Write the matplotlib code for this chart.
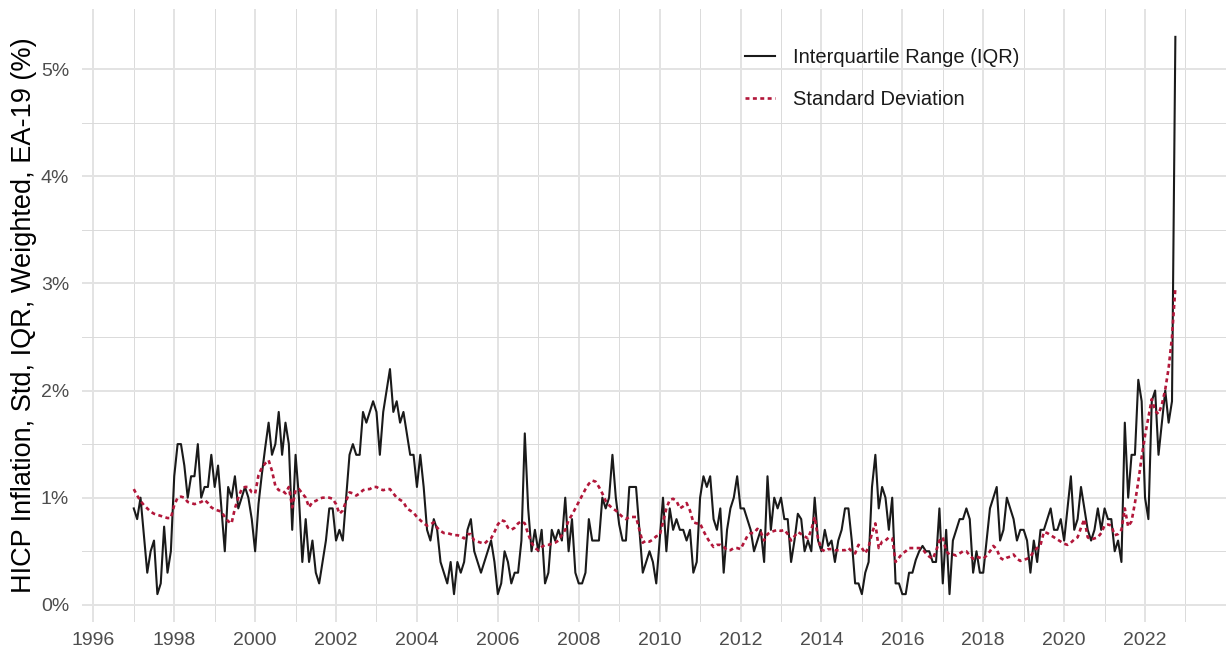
import matplotlib
matplotlib.use("Agg")
import matplotlib.pyplot as plt
import numpy as np
from matplotlib.lines import Line2D

plt.rcParams['font.family'] = ['Liberation Sans', 'DejaVu Sans']

# ---------------- data (monthly, starting Jan 1997) ----------------
start_year = 1997

iqr = [
    # 1997
    0.9, 0.8, 1.0, 0.65, 0.3, 0.5, 0.6, 0.1, 0.2, 0.73, 0.3, 0.5,
    # 1998
    1.2, 1.5, 1.5, 1.3, 1.0, 1.2, 1.2, 1.5, 1.0, 1.1, 1.1, 1.4,
    # 1999
    1.1, 1.3, 0.9, 0.5, 1.1, 1.0, 1.2, 0.9, 1.0, 1.1, 1.0, 0.8,
    # 2000
    0.5, 0.94, 1.22, 1.47, 1.7, 1.4, 1.5, 1.8, 1.4, 1.7, 1.5, 0.7,
    # 2001
    1.4, 1.0, 0.4, 0.8, 0.4, 0.6, 0.3, 0.2, 0.4, 0.6, 0.9, 0.9,
    # 2002
    0.6, 0.7, 0.6, 1.0, 1.4, 1.5, 1.4, 1.4, 1.8, 1.7, 1.8, 1.9,
    # 2003
    1.8, 1.4, 1.8, 2.0, 2.2, 1.8, 1.9, 1.7, 1.8, 1.6, 1.4, 1.4,
    # 2004
    1.1, 1.4, 1.1, 0.7, 0.6, 0.8, 0.7, 0.4, 0.3, 0.2, 0.4, 0.1,
    # 2005
    0.4, 0.3, 0.4, 0.7, 0.8, 0.5, 0.4, 0.3, 0.4, 0.5, 0.6, 0.4,
    # 2006
    0.1, 0.2, 0.5, 0.4, 0.2, 0.3, 0.3, 0.6, 1.6, 0.9, 0.5, 0.7,
    # 2007
    0.5, 0.7, 0.2, 0.3, 0.7, 0.6, 0.7, 0.6, 1.0, 0.5, 0.8, 0.3,
    # 2008
    0.2, 0.2, 0.3, 0.8, 0.6, 0.6, 0.6, 1.0, 0.9, 1.0, 1.4, 1.0,
    # 2009
    0.75, 0.6, 0.6, 1.1, 1.1, 1.1, 0.7, 0.3, 0.4, 0.5, 0.4, 0.2,
    # 2010
    0.6, 1.0, 0.5, 0.9, 0.7, 0.8, 0.7, 0.7, 0.6, 0.7, 0.3, 0.4,
    # 2011
    1.0, 1.2, 1.1, 1.2, 0.8, 0.7, 0.9, 0.3, 0.7, 0.9, 1.0, 1.2,
    # 2012
    0.9, 0.9, 0.8, 0.7, 0.5, 0.6, 0.7, 0.4, 1.2, 0.7, 1.0, 0.9,
    # 2013
    1.0, 0.8, 0.8, 0.4, 0.6, 0.85, 0.8, 0.5, 0.6, 0.5, 1.0, 0.6,
    # 2014
    0.5, 0.7, 0.55, 0.6, 0.4, 0.6, 0.7, 0.9, 0.9, 0.6, 0.2, 0.2,
    # 2015
    0.1, 0.3, 0.4, 1.1, 1.4, 0.9, 1.1, 1.0, 0.7, 1.0, 0.2, 0.2,
    # 2016
    0.1, 0.1, 0.3, 0.3, 0.42, 0.5, 0.55, 0.5, 0.5, 0.4, 0.4, 0.9,
    # 2017
    0.2, 0.7, 0.1, 0.6, 0.7, 0.8, 0.8, 0.9, 0.8, 0.3, 0.5, 0.3,
    # 2018
    0.3, 0.6, 0.9, 1.0, 1.1, 0.6, 0.7, 1.0, 0.9, 0.8, 0.6, 0.7,
    # 2019
    0.7, 0.6, 0.3, 0.6, 0.4, 0.7, 0.7, 0.8, 0.9, 0.7, 0.7, 0.8,
    # 2020
    0.6, 0.9, 1.2, 0.7, 0.8, 1.1, 0.9, 0.7, 0.6, 0.7, 0.9, 0.7,
    # 2021
    0.9, 0.8, 0.8, 0.5, 0.6, 0.4, 1.7, 1.0, 1.4, 1.4, 2.1, 1.9,
    # 2022
    1.0, 0.8, 1.9, 2.0, 1.4, 1.7, 2.0, 1.7, 1.9, 5.3,
]

sd = [
    # 1997
    1.08, 1.02, 0.97, 0.93, 0.90, 0.87, 0.85, 0.84, 0.83, 0.82, 0.81, 0.81,
    # 1998
    0.93, 1.0, 1.01, 1.0, 0.96, 0.95, 0.94, 0.95, 0.96, 0.98, 0.95, 0.91,
    # 1999
    0.89, 0.88, 0.87, 0.82, 0.78, 0.76, 0.9, 1.0, 1.08, 1.1, 1.1, 1.05,
    # 2000
    1.04, 1.21, 1.28, 1.32, 1.35, 1.25, 1.11, 1.07, 1.07, 1.04, 1.1, 0.91,
    # 2001
    1.07, 1.08, 1.04, 1.0, 0.91, 0.96, 0.97, 0.99, 1.0, 1.0, 1.0, 0.99,
    # 2002
    0.94, 0.85, 0.88, 0.97, 1.05, 1.04, 1.02, 1.04, 1.07, 1.08, 1.08, 1.1,
    # 2003
    1.1, 1.08, 1.07, 1.08, 1.08, 1.04, 1.0, 0.98, 0.96, 0.9, 0.88, 0.86,
    # 2004
    0.82, 0.79, 0.76, 0.74, 0.75, 0.77, 0.72, 0.69, 0.67, 0.67, 0.66, 0.65,
    # 2005
    0.65, 0.64, 0.62, 0.66, 0.66, 0.6, 0.59, 0.58, 0.57, 0.6, 0.62, 0.68,
    # 2006
    0.75, 0.79, 0.78, 0.72, 0.7, 0.72, 0.76, 0.78, 0.76, 0.66, 0.58, 0.53,
    # 2007
    0.51, 0.54, 0.56, 0.56, 0.57, 0.58, 0.6, 0.65, 0.7, 0.79, 0.84, 0.9,
    # 2008
    0.96, 1.02, 1.08, 1.13, 1.16, 1.15, 1.1, 1.04, 0.97, 0.93, 0.9, 0.88,
    # 2009
    0.85, 0.82, 0.8, 0.82, 0.82, 0.82, 0.7, 0.58, 0.6, 0.59, 0.61, 0.64,
    # 2010
    0.65, 0.77, 0.9, 0.98, 0.99, 0.97, 0.9, 0.92, 0.95, 0.88, 0.77, 0.76,
    # 2011
    0.76, 0.69, 0.63, 0.58, 0.54, 0.56, 0.56, 0.54, 0.51, 0.51, 0.53, 0.53,
    # 2012
    0.52, 0.58, 0.64, 0.67, 0.67, 0.71, 0.68, 0.6, 0.66, 0.68, 0.69, 0.7,
    # 2013
    0.69, 0.7, 0.66, 0.6, 0.64, 0.68, 0.66, 0.64, 0.62, 0.7, 0.82, 0.62,
    # 2014
    0.52, 0.5, 0.52, 0.52, 0.51, 0.51, 0.51, 0.51, 0.53, 0.5, 0.48, 0.56,
    # 2015
    0.53, 0.48, 0.54, 0.67, 0.76, 0.53, 0.59, 0.6, 0.63, 0.62, 0.4, 0.44,
    # 2016
    0.48, 0.5, 0.53, 0.53, 0.53, 0.53, 0.52, 0.48, 0.45, 0.43, 0.5, 0.6,
    # 2017
    0.63, 0.5, 0.47, 0.47, 0.46, 0.48, 0.5, 0.5, 0.46, 0.43, 0.45, 0.44,
    # 2018
    0.43, 0.46, 0.5, 0.55, 0.52, 0.44, 0.42, 0.44, 0.45, 0.47, 0.43, 0.41,
    # 2019
    0.42, 0.43, 0.45, 0.5, 0.53, 0.56, 0.68, 0.67, 0.65, 0.63, 0.61, 0.59,
    # 2020
    0.57, 0.56, 0.58, 0.61, 0.63, 0.72, 0.8, 0.63, 0.61, 0.62, 0.63, 0.67,
    # 2021
    0.74, 0.75, 0.74, 0.65, 0.66, 0.7, 0.9, 0.73, 0.78, 0.95, 1.15, 1.38,
    # 2022
    1.58, 1.75, 1.92, 1.81, 1.78, 1.87, 2.01, 2.21, 2.5, 2.96,
]

series_labels = ["Interquartile Range (IQR)", "Standard Deviation"]
x_tick_years = list(range(1996, 2023, 2))
y_tick_values = [0, 1, 2, 3, 4, 5]
y_tick_labels = ["0%", "1%", "2%", "3%", "4%", "5%"]
y_label = "HICP Inflation, Std, IQR, Weighted, EA-19 (%)"

# ---------------- plot ----------------
t = start_year + np.arange(len(iqr)) / 12.0
t_sd = start_year + np.arange(len(sd)) / 12.0

W, H = 1226, 654
fig = plt.figure(figsize=(W / 100, H / 100), dpi=100)
left_px, right_px, top_px, bottom_px = 81.6, 1226, 9, 622
ax = fig.add_axes([left_px / W, 1 - bottom_px / H,
                   (right_px - left_px) / W, (bottom_px - top_px) / H])

px_per_year = 40.45
x0 = 1995.71
ax.set_xlim(x0, x0 + (right_px - left_px) / px_per_year)
ax.set_ylim(-0.16, 5.56)

for s in ax.spines.values():
    s.set_visible(False)

ax.set_xticks(x_tick_years)
ax.set_xticklabels([str(y) for y in x_tick_years])
ax.set_xticks(list(range(1997, 2024, 2)), minor=True)
ax.set_yticks(y_tick_values)
ax.set_yticklabels(y_tick_labels)
ax.set_yticks([0.5, 1.5, 2.5, 3.5, 4.5], minor=True)

ax.tick_params(axis='both', which='both', length=0, labelsize=14,
               labelcolor='#4d4d4d')
ax.tick_params(axis='x', pad=7)
ax.tick_params(axis='y', pad=9)

ax.grid(which='major', color='#e3e3e3', linewidth=1.4)
ax.grid(which='minor', color='#dadada', linewidth=0.7)
ax.set_axisbelow(True)

ax.plot(t, iqr, color='#1a1a1a', linewidth=1.5, label=series_labels[0],
        solid_joinstyle='round')
ax.plot(t_sd, sd, color='#b2173a', linewidth=1.9, linestyle=(0, (1.5, 1.3)),
        label=series_labels[1])

ax.set_ylabel(y_label, fontsize=19.5, color='black', labelpad=3)

handles = [Line2D([], [], color='#1a1a1a', linewidth=1.5),
           Line2D([], [], color='#b2173a', linewidth=1.9, linestyle=(0, (1.5, 1.3)))]
leg = fig.legend(handles, series_labels, loc='upper left',
                 bbox_to_anchor=(745 / W, 1 - 48 / H), frameon=False,
                 fontsize=14.5, handlelength=1.5, handletextpad=0.87,
                 labelspacing=1.12, borderpad=0, borderaxespad=0)
for txt in leg.get_texts():
    txt.set_color('#1a1a1a')

fig.savefig("out.png", dpi=100)
